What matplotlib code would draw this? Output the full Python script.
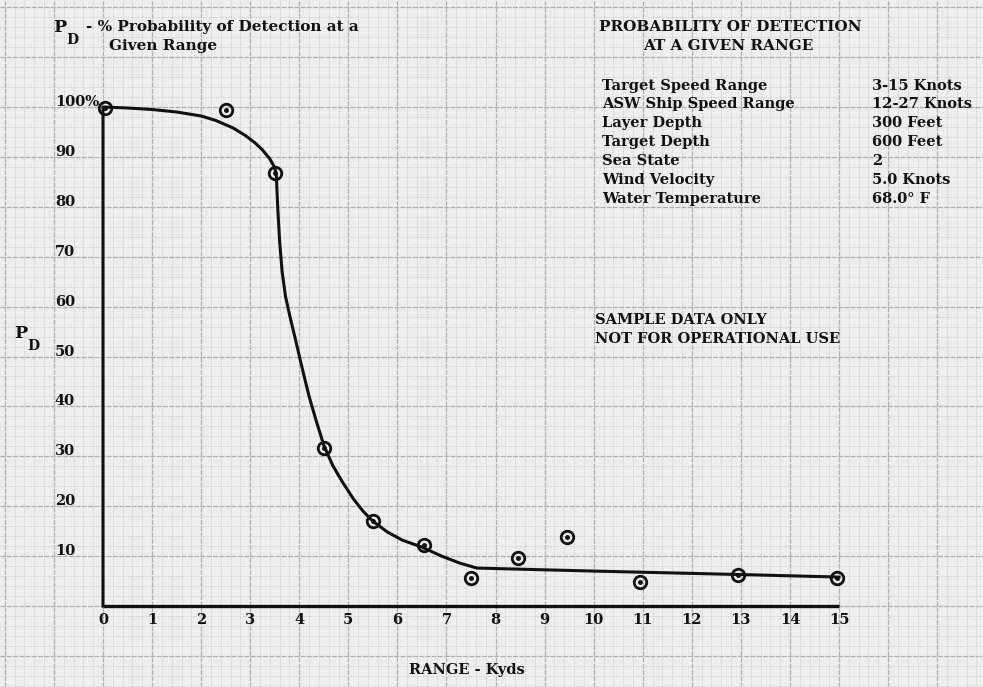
import matplotlib.pyplot as plt
import numpy as np

# observed detection probabilities (circles)
obs_range = [0.05, 2.5, 3.5, 4.5, 5.5, 6.55, 7.5, 8.45, 9.45, 10.95, 12.95, 14.95]
obs_pd = [99.8, 99.4, 86.8, 31.7, 17.0, 12.2, 5.6, 9.6, 13.8, 4.8, 6.2, 5.6]

# hand-drawn fitted curve
curve_range = [0.0, 0.0, 0.5, 1.0, 1.5, 2.0, 2.3, 2.65, 2.9, 3.1, 3.25, 3.4, 3.48, 3.53,
               3.56, 3.60, 3.65, 3.72, 3.81, 3.92, 4.01, 4.1, 4.2, 4.33, 4.5, 4.68, 4.87,
               5.1, 5.3, 5.5, 5.8, 6.1, 6.5, 6.9, 7.27, 7.62, 10.0, 13.0, 15.0]
curve_pd = [0.0, 100.0, 99.8, 99.5, 99.0, 98.2, 97.3, 95.8, 94.3, 92.8, 91.4, 89.6, 88.2, 86.8,
            80.0, 73.0, 67.0, 62.0, 58.0, 53.5, 49.7, 46.0, 42.0, 37.6, 32.2, 28.2, 25.0,
            21.5, 19.0, 17.0, 14.8, 13.2, 11.8, 10.0, 8.6, 7.6, 7.0, 6.3, 5.8]

x_ticks = list(range(0, 16))
y_ticks = [10, 20, 30, 40, 50, 60, 70, 80, 90, 100]
y_ticklabels = ['10', '20', '30', '40', '50', '60', '70', '80', '90', '100%']

param_names = ['Target Speed Range', 'ASW Ship Speed Range', 'Layer Depth', 'Target Depth',
               'Sea State', 'Wind Velocity', 'Water Temperature']
param_values = ['3-15 Knots', '12-27 Knots', '300 Feet', '600 Feet', '2', '5.0 Knots', '68.0\u00b0 F']

W, H = 983, 687
font = {'family': 'DejaVu Serif', 'weight': 'bold'}
ink = '#111111'
paper = '#eeeeee'

fig = plt.figure(figsize=(W / 100, H / 100), dpi=100)
fig.patch.set_facecolor(paper)
ax = fig.add_axes([0, 0, 1, 1])
ax.set_facecolor(paper)

def px(x, y):
    return x / W, 1 - y / H

# graph paper grid
ax.set_xticks(np.arange(-3, 19, 1))
ax.set_xticks(np.arange(-3, 19, 0.2), minor=True)
ax.set_yticks(np.arange(-20, 130, 10))
ax.set_yticks(np.arange(-20, 130, 2), minor=True)
ax.grid(which='minor', color='#d2d2d2', lw=0.6, ls=(0, (2, 1)))
ax.grid(which='major', color='#b0b0b0', lw=0.9, ls=(0, (4, 1)))
ax.tick_params(which='both', length=0, labelbottom=False, labelleft=False)
for s in ax.spines.values():
    s.set_visible(False)

# pixel mapping: x=0 at 103px, 49.07 px/unit ; y=0 at 606px, 4.99 px/unit
ax.set_xlim(-103 / 49.07, (W - 103) / 49.07)
ax.set_ylim(-(H - 606) / 4.99, 606 / 4.99)

# axes drawn by hand
ax.plot([0, 15], [0, 0], color=ink, lw=2.4, solid_capstyle='butt')
ax.plot(curve_range, curve_pd, color=ink, lw=2.2, solid_joinstyle='round')

ax.plot(obs_range, obs_pd, ls='none', marker='o', ms=9, mfc='none', mec=ink, mew=2)
ax.plot(obs_range, obs_pd, ls='none', marker='o', ms=2.5, mfc=ink, mec=ink)

# tick labels
for x in x_ticks:
    ax.text(x, -2.9, str(x), ha='center', va='center', fontsize=10.5, color=ink, **font)
for y, lab in zip(y_ticks, y_ticklabels):
    ax.text(-0.98, y + 1.0, lab, ha='left', va='center', fontsize=10.5, color=ink, **font)

# titles
fig.text(*px(53, 27), 'P', ha='left', va='center', fontsize=12.5, color=ink, **font)
fig.text(*px(66, 40), 'D', ha='left', va='center', fontsize=10, color=ink, **font)
fig.text(*px(86, 27), '- % Probability of Detection at a', ha='left', va='center',
         fontsize=11, color=ink, **font)
fig.text(*px(109, 46), 'Given Range', ha='left', va='center', fontsize=11, color=ink, **font)

fig.text(*px(730, 27), 'PROBABILITY OF DETECTION', ha='center', va='center',
         fontsize=11, color=ink, **font)
fig.text(*px(728, 46), 'AT A GIVEN RANGE', ha='center', va='center',
         fontsize=11, color=ink, **font)

row_y = [86, 104, 123, 142, 161, 180, 199]
for yy, name, val in zip(row_y, param_names, param_values):
    fig.text(*px(602, yy), name, ha='left', va='center', fontsize=10.5, color=ink, **font)
    fig.text(*px(872, yy), val, ha='left', va='center', fontsize=10.5, color=ink, **font)

fig.text(*px(595, 320), 'SAMPLE DATA ONLY', ha='left', va='center', fontsize=10.5, color=ink, **font)
fig.text(*px(595, 339), 'NOT FOR OPERATIONAL USE', ha='left', va='center', fontsize=10.5,
         color=ink, **font)

fig.text(*px(14, 333), 'P', ha='left', va='center', fontsize=12.5, color=ink, **font)
fig.text(*px(27, 346), 'D', ha='left', va='center', fontsize=10, color=ink, **font)

fig.text(*px(409, 670), 'RANGE - Kyds', ha='left', va='center', fontsize=10.5, color=ink, **font)

fig.savefig('out.png', dpi=100, facecolor=paper)
